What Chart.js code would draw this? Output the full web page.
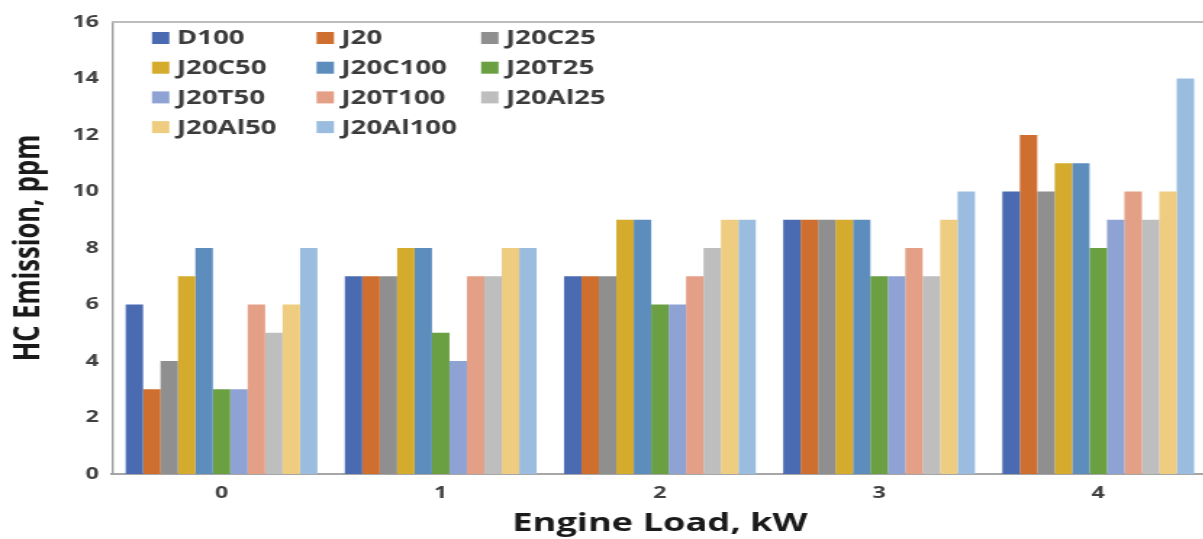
<!DOCTYPE html>
<html>
<head>
<meta charset="utf-8">
<script src="https://cdn.jsdelivr.net/npm/chart.js@4/dist/chart.umd.min.js"></script>
<style>
  html, body { margin: 0; padding: 0; background: #ffffff; overflow: hidden; }
  #wrap { width: 1203px; height: 539px; overflow: hidden; position: relative; }
  /* the figure is laid out narrow and widened horizontally */
  #c { position: absolute; left: 0; top: 0; transform: scaleX(1.45); transform-origin: 0 0; }
</style>
</head>
<body>
<div id="wrap"><canvas id="c" width="834" height="539"></canvas></div>
<script>
// Engine load categories (kW)
const loads = ['0', '1', '2', '3', '4'];

// Fuel blends
const seriesNames = ['D100', 'J20', 'J20C25', 'J20C50', 'J20C100', 'J20T25',
                     'J20T50', 'J20T100', 'J20Al25', 'J20Al50', 'J20Al100'];

// HC emission (ppm) per blend at each load
const D100     = [6, 7, 7, 9, 10];
const J20      = [3, 7, 7, 9, 12];
const J20C25   = [4, 7, 7, 9, 10];
const J20C50   = [7, 8, 9, 9, 11];
const J20C100  = [8, 8, 9, 9, 11];
const J20T25   = [3, 5, 6, 7, 8];
const J20T50   = [3, 4, 6, 7, 9];
const J20T100  = [6, 7, 7, 8, 10];
const J20Al25  = [5, 7, 8, 7, 9];
const J20Al50  = [6, 8, 9, 9, 10];
const J20Al100 = [8, 8, 9, 10, 14];

const seriesValues = [D100, J20, J20C25, J20C50, J20C100, J20T25,
                      J20T50, J20T100, J20Al25, J20Al50, J20Al100];

// y-axis range
const yMin = 0, yMax = 16, yStep = 2;

const colors = ['#4a6bb1', '#cf6f2f', '#8f8f8f', '#d4ab2d', '#5d8dbd', '#6a9f42',
                '#8fa2d4', '#e49f87', '#bebebe', '#eecc80', '#9abddf'];

const FONT = "'Open Sans', 'DejaVu Sans', sans-serif";

// Legend laid out as a three-column grid inside the plot area
const gridLegend = {
  id: 'gridLegend',
  afterDraw(chart) {
    const ctx = chart.ctx;
    const x0 = 104.8, colStep = 113.5, y0 = 38, rowStep = 29.7;
    ctx.save();
    ctx.font = 'bold 19px ' + FONT;
    ctx.textBaseline = 'middle';
    ctx.textAlign = 'left';
    chart.data.datasets.forEach((ds, i) => {
      const col = i % 3, row = Math.floor(i / 3);
      const bx = x0 + col * colStep;
      const by = y0 + row * rowStep;
      ctx.fillStyle = ds.backgroundColor;
      ctx.fillRect(bx, by - 6, 12, 12);
      ctx.fillStyle = '#3b3b3b';
      ctx.fillText(ds.label, bx + 17.2, by + 1);
    });
    ctx.restore();
  }
};

// Gray frame round the plot area
const plotFrame = {
  id: 'plotFrame',
  beforeDatasetsDraw(chart) {
    const { ctx, chartArea: a } = chart;
    ctx.save();
    ctx.strokeStyle = '#bdbdbd';
    ctx.lineWidth = 2;
    ctx.beginPath();
    ctx.moveTo(a.left, a.top);
    ctx.lineTo(a.right + 5, a.top);
    ctx.stroke();
    ctx.restore();
  }
};

new Chart(document.getElementById('c'), {
  type: 'bar',
  data: {
    labels: loads,
    datasets: seriesNames.map((name, i) => ({
      label: name,
      data: seriesValues[i],
      backgroundColor: colors[i],
      borderWidth: 0,
      categoryPercentage: 0.875,
      barPercentage: 1.0
    }))
  },
  options: {
    responsive: false,
    animation: false,
    devicePixelRatio: 1,
    layout: { padding: { top: 22, right: 1, left: 0, bottom: 0 } },
    plugins: {
      legend: { display: false },
      tooltip: { enabled: false }
    },
    scales: {
      x: {
        grid: { display: false, drawTicks: false },
        border: { display: true, color: '#a6a6a6', width: 2 },
        ticks: {
          color: '#404040',
          font: { family: FONT, size: 16, weight: 'bold' },
          padding: 10,
          maxRotation: 0
        },
        title: {
          display: true,
          text: 'Engine Load, kW',
          color: '#1a1a1a',
          font: { family: FONT, size: 25, weight: 'bold' },
          padding: { top: 0, bottom: 0 }
        },
        afterFit(scale) { scale.height = 65; }
      },
      y: {
        min: yMin,
        max: yMax,
        grid: { display: false, drawTicks: false },
        border: { display: true, color: '#9e9e9e', width: 1.4 },
        ticks: {
          stepSize: yStep,
          color: '#404040',
          font: { family: FONT, size: 16, weight: 'bold' },
          padding: 9
        },
        title: {
          display: true,
          text: 'HC Emission, ppm',
          color: '#1a1a1a',
          font: { family: FONT, size: 25.5, weight: 'bold' },
          padding: { top: 4, bottom: 0 }
        },
        afterFit(scale) { scale.width = 77.2; }
      }
    }
  },
  plugins: [plotFrame, gridLegend]
});
</script>
</body>
</html>
